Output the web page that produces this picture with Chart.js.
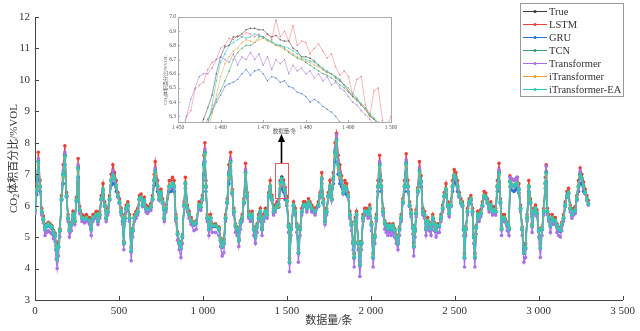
<!DOCTYPE html>
<html>
<head>
<meta charset="utf-8">
<script src="https://cdn.jsdelivr.net/npm/chart.js@4.4.1/dist/chart.umd.min.js"></script>
<style>
  html, body { margin: 0; padding: 0; background: #fff; }
  #wrap { position: relative; width: 640px; height: 331px; }
  #main { position: absolute; left: 0; top: 0; }
  #inset { position: absolute; left: 140px; top: 5px; }
</style>
</head>
<body>
<div id="wrap">
  <canvas id="main" width="640" height="331"></canvas>
  <canvas id="inset" width="260" height="135"></canvas>
</div>
<script>
// series names in legend order
const seriesNames = ['True', 'LSTM', 'GRU', 'TCN', 'Transformer', 'iTransformer', 'iTransformer-EA'];

// axis ticks
const mainXTicks = [0, 500, 1000, 1500, 2000, 2500, 3000, 3500];
const mainYTicks = [3, 4, 5, 6, 7, 8, 9, 10, 11, 12];
const insetXTicks = [1450, 1460, 1470, 1480, 1490, 1500];
const insetYTicks = [6.3, 6.4, 6.5, 6.6, 6.7, 6.8, 6.9, 7.0];

// sample positions (数据量/条)
const sampleIdx = [
  0,10,20,30,40,50,60,70,80,90,
  100,110,120,126,132,140,148,158,168,178,
  188,197,205,217,227,237,247,257,266,280,
  295,306,325,335,345,365,375,385,395,405,
  415,424,434,444,454,464,474,484,494,503,
  513,522,529,535,543,553,563,573,582,592,
  602,612,622,632,641,651,661,671,690,700,
  710,716,730,740,750,760,770,780,800,810,
  819,829,839,849,859,869,878,888,896,908,
  918,930,947,960,977,987,997,1006,1012,1018,
  1026,1036,1046,1056,1076,1096,1105,1115,1125,1135,
  1145,1155,1165,1175,1184,1194,1204,1214,1224,1234,
  1244,1254,1264,1273,1283,1293,1303,1313,1323,1332,
  1342,1352,1362,1372,1382,1392,1401,1411,1421,1431,
  1441,1451,1461,1470,1480,1490,1500,1510,1516,1525,
  1540,1550,1559,1569,1579,1589,1599,1609,1619,1629,
  1638,1648,1668,1688,1698,1708,1717,1727,1737,1747,
  1757,1767,1777,1787,1796,1806,1816,1826,1836,1846,
  1856,1865,1875,1885,1895,1901,1908,1915,1925,1935,
  1945,1954,1964,1974,1984,1994,2004,2014,2024,2033,
  2043,2053,2063,2073,2083,2092,2102,2112,2122,2132,
  2142,2152,2162,2171,2181,2191,2201,2211,2221,2231,
  2240,2250,2256,2264,2270,2280,2290,2300,2310,2320,
  2329,2339,2349,2359,2369,2379,2389,2399,2408,2418,
  2428,2438,2448,2458,2467,2477,2487,2497,2507,2517,
  2527,2537,2546,2553,2558,2566,2576,2586,2596,2606,
  2613,2620,2628,2637,2645,2655,2665,2675,2685,2695,
  2705,2715,2725,2735,2744,2754,2764,2772,2779,2786,
  2796,2813,2823,2829,2840,2853,2862,2872,2882,2892,
  2902,2912,2922,2931,2941,2951,2961,2971,2981,2990,
  3000,3010,3020,3030,3040,3045,3052,3060,3070,3080,
  3089,3099,3109,3119,3129,3138,3148,3158,3168,3178,
  3188,3198,3208,3218,3227,3237,3247,3257,3267,3277,
  3287,3296
];

const trueVals = [
  5.85,6.5,7.4,6.6,5.8,5.55,5.25,5.35,5.4,5.35,
  5.3,5.15,5.05,4.6,4.3,4.7,5.2,6.2,7.0,7.6,
  6.3,5.6,5.2,5.4,5.7,5.5,6.15,7.2,5.85,5.6,
  5.55,5.6,5.5,5.25,5.6,5.7,5.5,5.7,6.2,6.5,
  6.0,5.6,5.8,6.2,6.8,7.0,6.85,6.6,6.3,6.1,
  5.8,5.5,4.8,5.6,5.9,6.0,5.6,4.55,5.2,5.6,
  5.7,5.8,6.2,6.25,6.0,6.15,5.9,5.85,5.95,6.2,
  6.8,7.1,6.6,6.2,6.4,6.1,5.6,5.9,6.6,6.6,
  6.7,6.6,5.6,5.1,4.8,4.65,5.0,6.0,6.7,5.9,
  5.7,5.5,5.4,5.45,6.0,5.95,6.2,7.3,7.7,6.6,
  5.6,5.25,5.6,5.35,5.35,5.25,4.9,4.7,4.8,5.6,
  6.1,7.0,7.4,6.4,5.8,5.35,5.25,4.9,5.45,5.6,
  6.1,7.05,6.3,5.7,5.6,5.7,5.25,5.0,5.35,5.6,
  5.8,5.25,5.6,5.8,5.7,6.3,6.6,6.2,5.8,5.9,
  6.0,6.05,6.79,6.91,6.72,6.48,6.15,5.35,4.2,5.25,
  6.0,5.8,5.35,4.5,5.25,5.8,6.0,6.0,5.9,6.1,
  6.0,5.9,5.8,6.0,6.3,6.85,6.1,5.5,5.8,6.3,
  6.6,6.2,6.85,7.7,8.1,7.3,7.0,6.75,6.4,6.6,
  6.5,6.3,5.7,5.4,4.8,4.35,5.5,5.7,4.8,4.1,
  4.8,5.6,5.8,5.8,5.7,5.9,5.4,4.35,5.0,5.6,
  6.6,7.3,6.6,5.8,5.45,5.35,5.25,5.35,5.25,5.35,
  5.2,5.0,4.8,5.25,5.6,6.1,6.6,7.35,6.6,6.0,
  5.75,5.3,4.7,5.2,5.75,6.45,7.1,6.75,5.8,5.7,
  5.25,5.5,5.4,5.25,5.6,5.4,5.2,5.35,5.35,5.6,
  5.9,6.3,6.5,6.0,5.75,6.0,6.6,6.95,6.85,6.6,
  6.3,6.1,6.0,5.25,4.35,5.25,5.8,6.1,6.2,5.8,
  5.0,4.35,5.3,5.7,5.6,5.75,6.0,6.3,6.25,6.1,
  5.9,6.0,5.8,5.85,5.8,6.6,7.05,6.1,5.25,5.6,
  5.6,5.4,5.25,6.75,6.65,6.6,6.65,6.7,6.5,5.9,
  5.25,4.5,4.65,5.6,6.6,6.1,5.35,5.8,5.9,5.75,
  5.2,4.65,5.25,5.8,6.7,7.05,5.8,5.6,5.35,5.6,
  5.5,5.5,5.35,5.25,5.2,5.4,5.6,6.0,6.3,6.4,
  5.9,5.7,5.8,5.85,6.2,6.6,7.0,6.85,6.6,6.4,
  6.2,6.05
];

const lstmVals = [
  5.97,6.7,7.7,6.8,5.92,5.67,5.32,5.42,5.47,5.42,
  5.37,5.22,5.12,4.75,4.45,4.85,5.27,6.32,7.3,7.9,
  6.42,5.72,5.27,5.47,5.82,5.62,6.27,7.5,5.97,5.72,
  5.67,5.72,5.62,5.32,5.72,5.82,5.62,5.82,6.32,6.7,
  6.12,5.72,5.92,6.32,7.0,7.3,7.05,6.8,6.42,6.22,
  5.92,5.62,4.87,5.72,6.02,6.12,5.72,4.7,5.27,5.72,
  5.82,5.92,6.32,6.37,6.12,6.27,6.02,5.97,6.07,6.32,
  7.0,7.4,6.8,6.32,6.52,6.22,5.72,6.02,6.8,6.8,
  6.9,6.8,5.72,5.17,4.87,4.8,5.07,6.12,6.9,6.02,
  5.82,5.62,5.47,5.52,6.12,6.07,6.32,7.6,8.0,6.8,
  5.72,5.32,5.72,5.42,5.42,5.32,4.97,4.85,4.95,5.72,
  6.22,7.3,7.7,6.52,5.92,5.42,5.32,4.97,5.52,5.72,
  6.22,7.35,6.42,5.82,5.72,5.82,5.32,5.07,5.42,5.72,
  5.92,5.32,5.72,5.92,5.82,6.42,6.8,6.32,5.92,6.02,
  6.12,6.18,6.8,6.85,6.82,6.58,6.3,5.42,4.35,5.32,
  6.12,5.92,5.42,4.65,5.32,5.92,6.12,6.12,6.02,6.22,
  6.12,6.02,5.92,6.12,6.42,7.05,6.22,5.62,5.92,6.42,
  6.8,6.32,7.05,8.0,8.3,7.6,7.3,6.95,6.52,6.8,
  6.7,6.42,5.82,5.47,4.87,4.5,5.62,5.82,4.87,4.25,
  4.87,5.72,5.92,5.92,5.82,6.02,5.47,4.5,5.07,5.72,
  6.8,7.6,6.8,5.92,5.52,5.42,5.32,5.42,5.32,5.42,
  5.27,5.07,4.87,5.32,5.72,6.22,6.8,7.65,6.8,6.12,
  5.87,5.37,4.85,5.27,5.87,6.57,7.4,6.95,5.92,5.82,
  5.32,5.62,5.47,5.32,5.72,5.47,5.27,5.42,5.42,5.72,
  6.02,6.42,6.7,6.12,5.87,6.12,6.8,7.15,7.05,6.8,
  6.42,6.22,6.12,5.32,4.5,5.32,5.92,6.22,6.32,5.92,
  5.07,4.5,5.37,5.82,5.72,5.87,6.12,6.45,6.4,6.22,
  6.02,6.12,5.92,5.97,5.92,6.8,7.35,6.22,5.32,5.72,
  5.72,5.47,5.32,6.95,6.85,6.8,6.85,6.9,6.7,6.02,
  5.32,4.65,4.8,5.72,6.8,6.22,5.42,5.92,6.02,5.87,
  5.27,4.8,5.32,5.92,6.9,7.3,5.92,5.72,5.42,5.72,
  5.62,5.62,5.42,5.32,5.27,5.47,5.72,6.12,6.45,6.55,
  6.02,5.82,5.92,5.97,6.32,6.8,7.2,7.0,6.75,6.52,
  6.32,6.17
];

const gruVals = [
  5.83,6.35,7.1,6.45,5.78,5.53,5.23,5.33,5.38,5.33,
  5.28,5.13,5.03,4.58,4.28,4.68,5.18,6.18,6.7,7.3,
  6.28,5.58,5.18,5.38,5.68,5.48,6.13,6.9,5.83,5.58,
  5.53,5.58,5.48,5.23,5.58,5.68,5.48,5.68,6.18,6.35,
  5.98,5.58,5.78,6.18,6.65,6.7,6.7,6.45,6.28,6.08,
  5.78,5.48,4.78,5.58,5.88,5.98,5.58,4.53,5.18,5.58,
  5.68,5.78,6.18,6.23,5.98,6.13,5.88,5.83,5.93,6.18,
  6.65,6.8,6.45,6.18,6.38,6.08,5.58,5.88,6.45,6.45,
  6.55,6.45,5.58,5.08,4.78,4.63,4.98,5.98,6.55,5.88,
  5.68,5.48,5.38,5.43,5.98,5.93,6.18,7.0,7.4,6.45,
  5.58,5.23,5.58,5.33,5.33,5.23,4.88,4.68,4.78,5.58,
  6.08,6.7,7.1,6.38,5.78,5.33,5.23,4.88,5.43,5.58,
  6.08,6.75,6.28,5.68,5.58,5.68,5.23,4.98,5.33,5.58,
  5.78,5.23,5.58,5.78,5.68,6.28,6.45,6.18,5.78,5.88,
  5.95,5.98,6.51,6.6,6.44,6.2,6.0,5.33,4.18,5.23,
  5.98,5.78,5.33,4.48,5.23,5.78,5.98,5.98,5.88,6.08,
  5.98,5.88,5.78,5.98,6.28,6.7,6.08,5.48,5.78,6.28,
  6.45,6.18,6.7,7.4,7.8,7.0,6.7,6.6,6.38,6.45,
  6.35,6.28,5.68,5.38,4.78,4.33,5.48,5.68,4.78,4.08,
  4.78,5.58,5.78,5.78,5.68,5.88,5.38,4.33,4.98,5.58,
  6.45,7.0,6.45,5.78,5.43,5.33,5.23,5.33,5.23,5.33,
  5.18,4.98,4.78,5.23,5.58,6.08,6.45,7.05,6.45,5.98,
  5.73,5.28,4.68,5.18,5.73,6.43,6.8,6.6,5.78,5.68,
  5.23,5.48,5.38,5.23,5.58,5.38,5.18,5.33,5.33,5.58,
  5.88,6.28,6.35,5.98,5.73,5.98,6.45,6.8,6.7,6.45,
  6.28,6.08,5.98,5.23,4.33,5.23,5.78,6.08,6.18,5.78,
  4.98,4.33,5.28,5.68,5.58,5.73,5.98,6.28,6.23,6.08,
  5.88,5.98,5.78,5.83,5.78,6.45,6.75,6.08,5.23,5.58,
  5.58,5.38,5.23,6.6,6.5,6.45,6.5,6.55,6.4,5.88,
  5.23,4.48,4.63,5.58,6.45,6.08,5.33,5.78,5.88,5.73,
  5.18,4.63,5.23,5.78,6.55,6.75,5.78,5.58,5.33,5.58,
  5.48,5.48,5.33,5.23,5.18,5.38,5.58,5.98,6.28,6.38,
  5.88,5.68,5.78,5.83,6.18,6.45,6.7,6.7,6.45,6.38,
  6.18,6.03
];

const tcnVals = [
  5.89,6.54,7.42,6.64,5.84,5.59,5.29,5.39,5.44,5.39,
  5.34,5.19,5.09,4.7,4.4,4.8,5.24,6.24,7.04,7.62,
  6.34,5.64,5.24,5.44,5.74,5.54,6.19,7.24,5.89,5.64,
  5.59,5.64,5.54,5.29,5.64,5.74,5.54,5.74,6.24,6.54,
  6.04,5.64,5.84,6.24,6.84,7.04,6.89,6.64,6.34,6.14,
  5.84,5.54,4.84,5.64,5.94,6.04,5.64,4.65,5.24,5.64,
  5.74,5.84,6.24,6.29,6.04,6.19,5.94,5.89,5.99,6.24,
  6.84,7.14,6.64,6.24,6.44,6.14,5.64,5.94,6.64,6.64,
  6.74,6.64,5.64,5.14,4.84,4.75,5.04,6.04,6.74,5.94,
  5.74,5.54,5.44,5.49,6.04,5.99,6.24,7.34,7.72,6.64,
  5.64,5.29,5.64,5.39,5.39,5.29,4.94,4.8,4.9,5.64,
  6.14,7.04,7.44,6.44,5.84,5.39,5.29,4.94,5.49,5.64,
  6.14,7.09,6.34,5.74,5.64,5.74,5.29,5.04,5.39,5.64,
  5.84,5.29,5.64,5.84,5.74,6.34,6.64,6.24,5.84,5.94,
  5.95,5.95,6.55,6.86,6.68,6.47,6.17,5.39,4.3,5.29,
  6.04,5.84,5.39,4.6,5.29,5.84,6.04,6.04,5.94,6.14,
  6.04,5.94,5.84,6.04,6.34,6.89,6.14,5.54,5.84,6.34,
  6.64,6.24,6.89,7.74,8.12,7.34,7.04,6.79,6.44,6.64,
  6.54,6.34,5.74,5.44,4.84,4.45,5.54,5.74,4.84,4.2,
  4.84,5.64,5.84,5.84,5.74,5.94,5.44,4.45,5.04,5.64,
  6.64,7.34,6.64,5.84,5.49,5.39,5.29,5.39,5.29,5.39,
  5.24,5.04,4.84,5.29,5.64,6.14,6.64,7.39,6.64,6.04,
  5.79,5.34,4.8,5.24,5.79,6.49,7.14,6.79,5.84,5.74,
  5.29,5.54,5.44,5.29,5.64,5.44,5.24,5.39,5.39,5.64,
  5.94,6.34,6.54,6.04,5.79,6.04,6.64,6.99,6.89,6.64,
  6.34,6.14,6.04,5.29,4.45,5.29,5.84,6.14,6.24,5.84,
  5.04,4.45,5.34,5.74,5.64,5.79,6.04,6.34,6.29,6.14,
  5.94,6.04,5.84,5.89,5.84,6.64,7.09,6.14,5.29,5.64,
  5.64,5.44,5.29,6.79,6.69,6.64,6.69,6.74,6.54,5.94,
  5.29,4.6,4.75,5.64,6.64,6.14,5.39,5.84,5.94,5.79,
  5.24,4.75,5.29,5.84,6.74,7.09,5.84,5.64,5.39,5.64,
  5.54,5.54,5.39,5.29,5.24,5.44,5.64,6.04,6.34,6.44,
  5.94,5.74,5.84,5.89,6.24,6.64,7.04,6.89,6.64,6.44,
  6.24,6.09
];

const transformerVals = [
  5.75,6.47,7.5,6.57,5.7,5.45,5.05,5.15,5.2,5.15,
  5.1,4.95,4.85,4.3,4.0,4.4,5.0,6.17,7.1,7.7,
  6.27,5.5,5.0,5.2,5.6,5.4,6.12,7.3,5.75,5.5,
  5.45,5.5,5.4,5.05,5.5,5.6,5.4,5.6,6.17,6.47,
  5.97,5.5,5.7,6.17,6.77,7.1,6.82,6.57,6.27,6.07,
  5.7,5.4,4.6,5.5,5.8,5.97,5.5,4.25,5.0,5.5,
  5.6,5.7,6.17,6.22,5.97,6.12,5.8,5.75,5.85,6.17,
  6.77,7.2,6.57,6.17,6.37,6.07,5.5,5.8,6.57,6.57,
  6.67,6.57,5.5,4.9,4.6,4.35,4.8,5.97,6.67,5.8,
  5.6,5.4,5.2,5.25,5.97,5.85,6.17,7.4,7.8,6.57,
  5.5,5.05,5.5,5.15,5.15,5.05,4.7,4.4,4.5,5.5,
  6.07,7.1,7.5,6.37,5.7,5.15,5.05,4.7,5.25,5.5,
  6.07,7.15,6.27,5.6,5.5,5.6,5.05,4.8,5.15,5.5,
  5.7,5.05,5.5,5.7,5.6,6.27,6.57,6.17,5.7,5.8,
  6.0,6.2,6.7,6.66,6.6,6.44,6.1,5.15,3.9,5.05,
  5.97,5.7,5.15,4.2,5.05,5.7,5.97,5.97,5.8,6.07,
  5.97,5.8,5.7,5.97,6.27,6.82,6.07,5.4,5.7,6.27,
  6.57,6.17,6.82,7.8,8.25,7.4,7.1,6.72,6.37,6.57,
  6.47,6.27,5.6,5.2,4.6,4.05,5.4,5.6,4.6,3.75,
  4.6,5.5,5.7,5.7,5.6,5.8,5.2,4.05,4.8,5.5,
  6.57,7.4,6.57,5.7,5.25,5.15,5.05,5.15,5.05,5.15,
  5.0,4.8,4.6,5.05,5.5,6.07,6.57,7.45,6.57,5.97,
  5.65,5.1,4.4,5.0,5.65,6.42,7.2,6.72,5.7,5.6,
  5.05,5.4,5.2,5.05,5.5,5.2,5.0,5.15,5.15,5.5,
  5.8,6.27,6.47,5.97,5.65,5.97,6.57,6.92,6.82,6.57,
  6.27,6.07,5.97,5.05,4.05,5.05,5.7,6.07,6.17,5.7,
  4.8,4.05,5.1,5.6,5.5,5.65,5.97,6.27,6.22,6.07,
  5.8,5.97,5.7,5.75,5.7,6.57,7.15,6.07,5.05,5.5,
  5.5,5.2,5.05,6.9,6.85,6.8,6.85,6.9,6.55,5.8,
  5.05,4.2,4.35,5.5,6.57,6.07,5.15,5.7,5.8,5.65,
  5.0,4.35,5.05,5.7,6.67,7.25,5.7,5.5,5.15,5.5,
  5.4,5.4,5.15,5.05,5.0,5.2,5.5,5.97,6.27,6.37,
  5.8,5.6,5.7,5.75,6.17,6.57,7.1,6.82,6.57,6.37,
  6.17,6.02
];

const iTransformerVals = [
  5.87,6.52,7.3,6.62,5.82,5.57,5.27,5.37,5.42,5.37,
  5.32,5.17,5.07,4.62,4.32,4.72,5.22,6.22,6.9,7.5,
  6.32,5.62,5.22,5.42,5.72,5.52,6.17,7.1,5.87,5.62,
  5.57,5.62,5.52,5.27,5.62,5.72,5.52,5.72,6.22,6.52,
  6.02,5.62,5.82,6.22,6.82,6.9,6.87,6.62,6.32,6.12,
  5.82,5.52,4.82,5.62,5.92,6.02,5.62,4.57,5.22,5.62,
  5.72,5.82,6.22,6.27,6.02,6.17,5.92,5.87,5.97,6.22,
  6.82,7.0,6.62,6.22,6.42,6.12,5.62,5.92,6.62,6.62,
  6.72,6.62,5.62,5.12,4.82,4.67,5.02,6.02,6.72,5.92,
  5.72,5.52,5.42,5.47,6.02,5.97,6.22,7.2,7.6,6.62,
  5.62,5.27,5.62,5.37,5.37,5.27,4.92,4.72,4.82,5.62,
  6.12,6.9,7.3,6.42,5.82,5.37,5.27,4.92,5.47,5.62,
  6.12,6.95,6.32,5.72,5.62,5.72,5.27,5.02,5.37,5.62,
  5.82,5.27,5.62,5.82,5.72,6.32,6.62,6.22,5.82,5.92,
  5.98,6.0,6.67,6.85,6.69,6.48,6.12,5.37,4.22,5.27,
  6.02,5.82,5.37,4.52,5.27,5.82,6.02,6.02,5.92,6.12,
  6.02,5.92,5.82,6.02,6.32,6.87,6.12,5.52,5.82,6.32,
  6.62,6.22,6.87,7.6,8.0,7.2,6.9,6.77,6.42,6.62,
  6.52,6.32,5.72,5.42,4.82,4.37,5.52,5.72,4.82,4.12,
  4.82,5.62,5.82,5.82,5.72,5.92,5.42,4.37,5.02,5.62,
  6.62,7.2,6.62,5.82,5.47,5.37,5.27,5.37,5.27,5.37,
  5.22,5.02,4.82,5.27,5.62,6.12,6.62,7.25,6.62,6.02,
  5.77,5.32,4.72,5.22,5.77,6.47,7.0,6.77,5.82,5.72,
  5.27,5.52,5.42,5.27,5.62,5.42,5.22,5.37,5.37,5.62,
  5.92,6.32,6.52,6.02,5.77,6.02,6.62,6.97,6.87,6.62,
  6.32,6.12,6.02,5.27,4.37,5.27,5.82,6.12,6.22,5.82,
  5.02,4.37,5.32,5.72,5.62,5.77,6.02,6.32,6.27,6.12,
  5.92,6.02,5.82,5.87,5.82,6.62,6.95,6.12,5.27,5.62,
  5.62,5.42,5.27,6.77,6.67,6.62,6.67,6.72,6.52,5.92,
  5.27,4.52,4.67,5.62,6.62,6.12,5.37,5.82,5.92,5.77,
  5.22,4.67,5.27,5.82,6.72,6.95,5.82,5.62,5.37,5.62,
  5.52,5.52,5.37,5.27,5.22,5.42,5.62,6.02,6.32,6.42,
  5.92,5.72,5.82,5.87,6.22,6.62,6.9,6.87,6.62,6.42,
  6.22,6.07
];

const iTransformerEaVals = [
  5.86,6.49,7.37,6.61,5.81,5.55,5.26,5.35,5.41,5.35,
  5.31,5.15,5.06,4.61,4.31,4.71,5.21,6.2,6.97,7.57,
  6.31,5.61,5.21,5.41,5.71,5.51,6.16,7.17,5.86,5.61,
  5.56,5.61,5.51,5.26,5.61,5.71,5.51,5.71,6.21,6.51,
  6.01,5.61,5.81,6.21,6.81,6.97,6.86,6.61,6.31,6.11,
  5.81,5.51,4.81,5.61,5.91,6.01,5.61,4.56,5.21,5.61,
  5.71,5.81,6.21,6.26,6.01,6.16,5.91,5.86,5.96,6.21,
  6.81,7.07,6.61,6.21,6.41,6.11,5.61,5.91,6.61,6.61,
  6.71,6.61,5.61,5.11,4.81,4.66,5.01,6.01,6.71,5.91,
  5.71,5.51,5.41,5.46,6.01,5.96,6.21,7.27,7.67,6.61,
  5.61,5.26,5.61,5.36,5.36,5.26,4.91,4.71,4.81,5.61,
  6.11,6.97,7.37,6.41,5.81,5.36,5.26,4.91,5.46,5.61,
  6.11,7.02,6.31,5.71,5.61,5.71,5.26,5.01,5.36,5.61,
  5.81,5.26,5.61,5.81,5.71,6.31,6.61,6.21,5.81,5.91,
  6.0,6.05,6.74,6.86,6.7,6.5,6.15,5.36,4.21,5.26,
  6.01,5.81,5.36,4.51,5.26,5.81,6.01,6.01,5.91,6.11,
  6.01,5.91,5.81,6.01,6.31,6.86,6.11,5.51,5.81,6.31,
  6.61,6.21,6.86,7.67,8.07,7.27,6.97,6.76,6.41,6.61,
  6.51,6.31,5.71,5.41,4.81,4.36,5.51,5.71,4.81,4.11,
  4.81,5.61,5.81,5.81,5.71,5.91,5.41,4.36,5.01,5.61,
  6.61,7.27,6.61,5.81,5.46,5.36,5.26,5.36,5.26,5.36,
  5.21,5.01,4.81,5.26,5.61,6.11,6.61,7.32,6.61,6.01,
  5.76,5.31,4.71,5.21,5.76,6.46,7.07,6.76,5.81,5.71,
  5.26,5.51,5.41,5.26,5.61,5.41,5.21,5.36,5.36,5.61,
  5.91,6.31,6.51,6.01,5.76,6.01,6.61,6.96,6.86,6.61,
  6.31,6.11,6.01,5.26,4.36,5.26,5.81,6.11,6.21,5.81,
  5.01,4.36,5.31,5.71,5.61,5.76,6.01,6.31,6.26,6.11,
  5.91,6.01,5.81,5.86,5.81,6.61,7.02,6.11,5.26,5.61,
  5.61,5.41,5.26,6.76,6.66,6.61,6.66,6.71,6.51,5.91,
  5.26,4.51,4.66,5.61,6.61,6.11,5.36,5.81,5.91,5.76,
  5.21,4.66,5.26,5.81,6.71,7.02,5.81,5.61,5.36,5.61,
  5.51,5.51,5.36,5.26,5.21,5.41,5.61,6.01,6.31,6.41,
  5.91,5.71,5.81,5.86,6.21,6.61,6.97,6.86,6.61,6.41,
  6.21,6.06
];

// inset: 1450-1500, one value per record
const insetIdx = [
  1450,1451,1452,1453,1454,1455,1456,1457,1458,1459,1460,
  1461,1462,1463,1464,1465,1466,1467,1468,1469,1470,
  1471,1472,1473,1474,1475,1476,1477,1478,1479,1480,
  1481,1482,1483,1484,1485,1486,1487,1488,1489,1490,
  1491,1492,1493,1494,1495,1496,1497,1498,1499,1500
];
const insetTrue = [
  6.00,6.05,6.10,6.12,6.15,6.20,6.28,6.36,6.45,6.60,6.72,
  6.79,6.80,6.86,6.86,6.88,6.91,6.92,6.92,6.91,6.91,
  6.88,6.86,6.87,6.84,6.83,6.83,6.78,6.76,6.72,6.72,
  6.71,6.69,6.66,6.63,6.61,6.60,6.57,6.55,6.52,6.48,
  6.44,6.42,6.38,6.35,6.30,6.28,6.24,6.20,6.18,6.15
];
const insetLstm = [
  6.05,6.18,6.30,6.34,6.49,6.52,6.54,6.63,6.68,6.70,6.78,
  6.80,6.85,6.84,6.87,6.86,6.89,6.88,6.86,6.88,6.85,
  6.88,6.84,6.98,6.86,6.90,6.83,6.94,6.80,6.83,6.82,
  6.74,6.78,6.81,6.76,6.71,6.74,6.65,6.59,6.62,6.58,
  6.45,6.56,6.58,6.38,6.30,6.48,6.50,6.27,6.22,6.30
];
const insetGru = [
  5.95,5.98,6.02,6.06,6.10,6.15,6.22,6.28,6.33,6.40,6.45,
  6.51,6.53,6.54,6.56,6.60,6.63,6.59,6.62,6.63,6.60,
  6.55,6.58,6.57,6.54,6.55,6.51,6.50,6.47,6.46,6.44,
  6.40,6.42,6.40,6.37,6.35,6.33,6.30,6.26,6.23,6.20,
  6.18,6.15,6.12,6.10,6.08,6.06,6.04,6.02,6.01,6.00
];
const insetTcn = [
  5.92,5.95,5.98,6.02,6.06,6.10,6.15,6.25,6.35,6.42,6.48,
  6.55,6.62,6.70,6.75,6.78,6.80,6.80,6.82,6.86,6.86,
  6.84,6.82,6.80,6.80,6.78,6.75,6.73,6.71,6.70,6.68,
  6.66,6.64,6.62,6.60,6.59,6.57,6.55,6.52,6.50,6.47,
  6.44,6.41,6.38,6.35,6.31,6.28,6.25,6.22,6.19,6.17
];
const insetTransformer = [
  6.10,6.20,6.30,6.42,6.50,6.58,6.60,6.60,6.64,6.70,6.72,
  6.70,6.68,6.74,6.66,6.72,6.70,6.75,6.70,6.74,6.66,
  6.72,6.63,6.70,6.67,6.70,6.60,6.66,6.62,6.64,6.60,
  6.62,6.57,6.60,6.55,6.58,6.52,6.54,6.50,6.48,6.44,
  6.40,6.38,6.34,6.31,6.28,6.24,6.20,6.17,6.14,6.10
];
const insetITransformer = [
  5.95,6.00,6.03,6.06,6.09,6.12,6.16,6.20,6.32,6.45,6.58,
  6.67,6.72,6.76,6.78,6.82,6.84,6.83,6.82,6.84,6.85,
  6.83,6.82,6.80,6.79,6.77,6.76,6.74,6.72,6.71,6.69,
  6.68,6.66,6.65,6.63,6.61,6.60,6.58,6.56,6.52,6.48,
  6.45,6.42,6.38,6.35,6.31,6.28,6.24,6.20,6.16,6.12
];
const insetITransformerEa = [
  6.00,6.05,6.08,6.10,6.14,6.18,6.22,6.25,6.38,6.55,6.68,
  6.74,6.80,6.82,6.84,6.86,6.85,6.86,6.88,6.87,6.86,
  6.84,6.83,6.81,6.80,6.79,6.78,6.76,6.74,6.72,6.70,
  6.69,6.68,6.66,6.64,6.62,6.60,6.58,6.56,6.52,6.50,
  6.46,6.43,6.39,6.36,6.32,6.29,6.26,6.22,6.19,6.15
];

const mainColors = ['#3c3c3c', '#e8403a', '#2e6fd8', '#3a9d6a', '#a970e6', '#e6a331', '#29c9c1'];
const insetColors = ['rgba(70,70,70,0.75)', 'rgba(232,90,90,0.6)', 'rgba(60,110,200,0.7)', 'rgba(60,150,100,0.7)',
                     'rgba(160,110,210,0.7)', 'rgba(230,165,60,0.7)', 'rgba(40,190,190,0.7)'];

const SERIF = "'Liberation Serif', 'Times New Roman', 'Noto Sans CJK SC', serif";
const AXIS = '#444';

Chart.defaults.font.family = SERIF;
Chart.defaults.color = '#333';

const fmt = v => v >= 1000 ? Math.floor(v / 1000) + ' ' + String(v % 1000).padStart(3, '0') : String(v);

const buildDatasets = (xs, valueLists, colors, lineWidth, radius) =>
  valueLists.map((vals, k) => ({
    label: seriesNames[k],
    data: xs.map((x, i) => ({ x: x, y: vals[i] })),
    borderColor: colors[k],
    backgroundColor: colors[k],
    borderWidth: lineWidth,
    pointRadius: radius,
    pointBorderWidth: 0,
    pointBackgroundColor: colors[k],
    tension: 0,
    order: valueLists.length - 1 - k   // iTransformer-EA ends on top
  }));

// draws the CO2 axis title (with subscript) rotated
const drawYTitle = (ctx, cx, cy, size) => {
  const subSize = size * 0.7;
  const main = size + 'px ' + SERIF;
  const sub = subSize + 'px ' + SERIF;
  ctx.save();
  ctx.translate(cx, cy);
  ctx.rotate(-Math.PI / 2);
  ctx.textBaseline = 'middle';
  ctx.textAlign = 'left';
  ctx.font = main;
  const w1 = ctx.measureText('CO').width;
  const w3 = ctx.measureText('体积百分比/%VOL').width;
  ctx.font = sub;
  const w2 = ctx.measureText('2').width;
  let x0 = -(w1 + w2 + w3) / 2;
  ctx.font = main;
  ctx.fillText('CO', x0, 0);
  ctx.font = sub;
  ctx.fillText('2', x0 + w1, size * 0.3);
  ctx.font = main;
  ctx.fillText('体积百分比/%VOL', x0 + w1 + w2, 0);
  ctx.restore();
};

const mainDecor = {
  id: 'mainDecor',
  afterDraw(chart) {
    const { ctx, scales: { x, y } } = chart;
    ctx.save();
    // inward tick marks
    ctx.strokeStyle = AXIS;
    ctx.lineWidth = 1;
    ctx.beginPath();
    mainXTicks.forEach(v => {
      const px = Math.round(x.getPixelForValue(v)) + 0.5;
      ctx.moveTo(px, y.bottom);
      ctx.lineTo(px, y.bottom - 4);
    });
    mainYTicks.forEach(v => {
      const py = Math.round(y.getPixelForValue(v)) + 0.5;
      ctx.moveTo(x.left, py);
      ctx.lineTo(x.left + 4, py);
    });
    ctx.stroke();

    // axis titles
    ctx.fillStyle = '#333';
    drawYTitle(ctx, 14, (y.top + y.bottom) / 2, 11);
    ctx.font = '11px ' + SERIF;
    ctx.textAlign = 'center';
    ctx.textBaseline = 'middle';
    ctx.fillText('数据量/条', (x.left + x.right) / 2, 321);

    // zoom window marker and arrow to the inset
    const bx0 = x.getPixelForValue(1428), bx1 = x.getPixelForValue(1504);
    const by0 = y.getPixelForValue(7.36), by1 = y.getPixelForValue(6.25);
    ctx.strokeStyle = '#e85a5a';
    ctx.lineWidth = 1;
    ctx.strokeRect(Math.round(bx0) + 0.5, Math.round(by0) + 0.5, Math.round(bx1 - bx0), Math.round(by1 - by0));
    const ax = Math.round((bx0 + bx1) / 2) + 0.5;
    ctx.strokeStyle = '#000';
    ctx.lineWidth = 1.6;
    ctx.beginPath();
    ctx.moveTo(ax, Math.round(by0));
    ctx.lineTo(ax, 140);
    ctx.stroke();
    ctx.fillStyle = '#000';
    ctx.beginPath();
    ctx.moveTo(ax, 134);
    ctx.lineTo(ax - 3.5, 142);
    ctx.lineTo(ax + 3.5, 142);
    ctx.closePath();
    ctx.fill();

    // legend
    ctx.fillStyle = '#fff';
    ctx.fillRect(520, 3, 104, 94);
    ctx.strokeStyle = '#999';
    ctx.lineWidth = 1;
    ctx.strokeRect(520.5, 3.5, 103, 93);
    ctx.font = '10.5px ' + SERIF;
    ctx.textAlign = 'left';
    ctx.textBaseline = 'middle';
    seriesNames.forEach((name, k) => {
      const ly = 11.5 + k * 13;
      ctx.strokeStyle = mainColors[k];
      ctx.lineWidth = 1;
      ctx.beginPath();
      ctx.moveTo(523, ly);
      ctx.lineTo(547, ly);
      ctx.stroke();
      ctx.fillStyle = mainColors[k];
      ctx.beginPath();
      ctx.arc(535, ly, 1.6, 0, Math.PI * 2);
      ctx.fill();
      ctx.fillStyle = '#333';
      ctx.fillText(name, 549, ly + 0.5);
    });
    ctx.restore();
  }
};

new Chart(document.getElementById('main'), {
  type: 'line',
  data: {
    datasets: buildDatasets(sampleIdx,
      [trueVals, lstmVals, gruVals, tcnVals, transformerVals, iTransformerVals, iTransformerEaVals],
      mainColors, 1.3, 1.8)
  },
  options: {
    responsive: false,
    animation: false,
    events: [],
    parsing: false,
    layout: { padding: { left: 0, right: 14, top: 17, bottom: 0 } },
    plugins: { legend: { display: false }, tooltip: { enabled: false } },
    scales: {
      x: {
        type: 'linear', min: 0, max: 3500,
        grid: { display: false, drawTicks: false },
        border: { display: true, color: AXIS, width: 1 },
        afterBuildTicks: s => { s.ticks = mainXTicks.map(v => ({ value: v })); },
        afterFit: s => { s.height = 31; },
        ticks: { padding: 5, autoSkip: false, maxRotation: 0, color: '#333', font: { size: 11 }, callback: v => fmt(v) }
      },
      y: {
        min: 3, max: 12,
        grid: { display: false, drawTicks: false },
        border: { display: true, color: AXIS, width: 1 },
        afterBuildTicks: s => { s.ticks = mainYTicks.map(v => ({ value: v })); },
        afterFit: s => { s.width = 35; },
        ticks: { padding: 5, color: '#333', font: { size: 11 } }
      }
    }
  },
  plugins: [mainDecor]
});

const insetDecor = {
  id: 'insetDecor',
  afterDraw(chart) {
    const { ctx, chartArea: a, scales: { x, y } } = chart;
    ctx.save();
    ctx.strokeStyle = '#aaa';
    ctx.lineWidth = 1;
    ctx.strokeRect(Math.round(a.left) + 0.5, Math.round(a.top) + 0.5, Math.round(a.right - a.left), Math.round(a.bottom - a.top));
    ctx.beginPath();
    insetXTicks.forEach(v => {
      const px = Math.round(x.getPixelForValue(v)) + 0.5;
      ctx.moveTo(px, a.bottom);
      ctx.lineTo(px, a.bottom - 2);
    });
    insetYTicks.forEach(v => {
      const py = Math.round(y.getPixelForValue(v)) + 0.5;
      ctx.moveTo(a.left, py);
      ctx.lineTo(a.left + 2, py);
    });
    ctx.stroke();
    ctx.fillStyle = '#555';
    drawYTitle(ctx, 26, 75, 5);
    ctx.font = '5.5px ' + SERIF;
    ctx.textAlign = 'center';
    ctx.textBaseline = 'middle';
    ctx.fillText('数据量/条', (a.left + a.right) / 2, 126.5);
    ctx.restore();
  }
};

new Chart(document.getElementById('inset'), {
  type: 'line',
  data: {
    datasets: buildDatasets(insetIdx,
      [insetTrue, insetLstm, insetGru, insetTcn, insetTransformer, insetITransformer, insetITransformerEa],
      insetColors, 0.7, 0.8)
  },
  options: {
    responsive: false,
    animation: false,
    events: [],
    parsing: false,
    layout: { padding: { left: 0, right: 9, top: 12, bottom: 0 } },
    plugins: { legend: { display: false }, tooltip: { enabled: false } },
    scales: {
      x: {
        type: 'linear', min: 1450, max: 1500,
        grid: { display: false, drawTicks: false },
        border: { display: false },
        afterBuildTicks: s => { s.ticks = insetXTicks.map(v => ({ value: v })); },
        afterFit: s => { s.height = 18; },
        ticks: { padding: 2, autoSkip: false, maxRotation: 0, color: '#555', font: { size: 5.5 }, callback: v => fmt(v) }
      },
      y: {
        min: 6.26, max: 7.0,
        grid: { display: false, drawTicks: false },
        border: { display: false },
        afterBuildTicks: s => { s.ticks = insetYTicks.map(v => ({ value: v })); },
        afterFit: s => { s.width = 38; },
        ticks: { padding: 2, color: '#555', font: { size: 5.5 }, callback: v => v.toFixed(1) }
      }
    }
  },
  plugins: [insetDecor]
});
</script>
</body>
</html>
